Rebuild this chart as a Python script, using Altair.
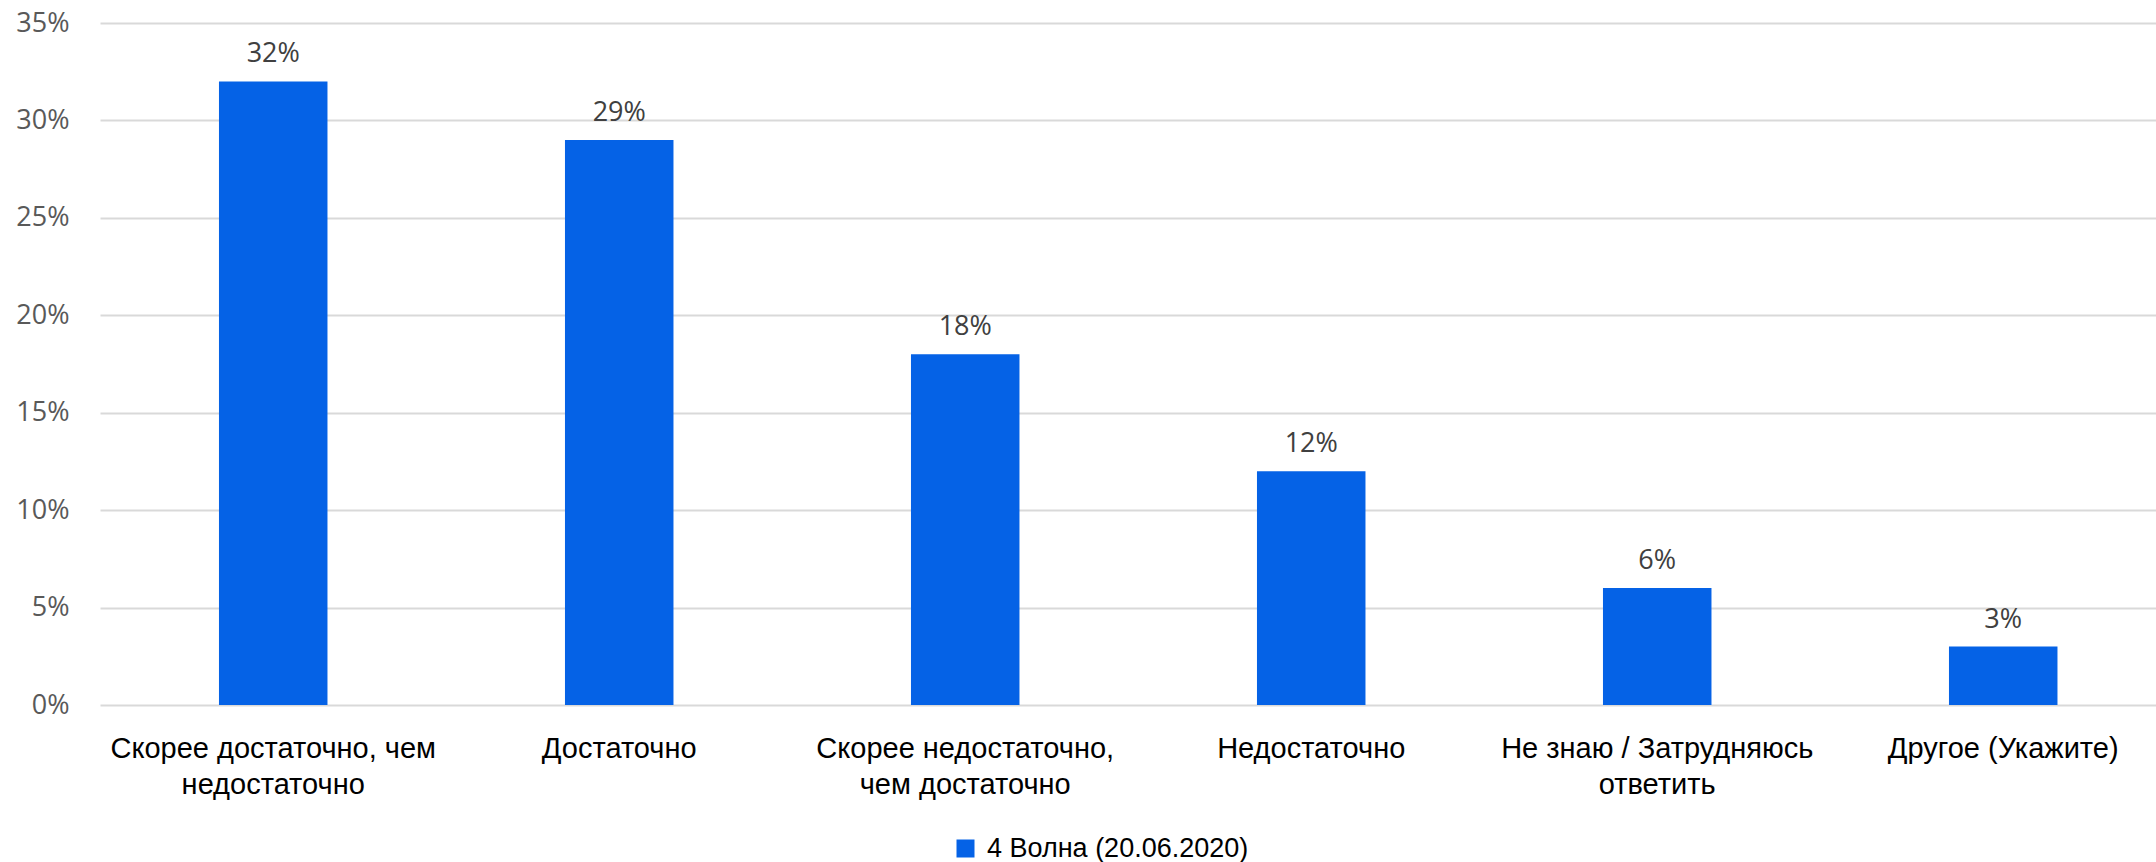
import altair as alt
import pandas as pd

categories = [
    "Скорее достаточно, чем|недостаточно",
    "Достаточно",
    "Скорее недостаточно,|чем достаточно",
    "Недостаточно",
    "Не знаю / Затрудняюсь|ответить",
    "Другое (Укажите)",
]
values = [32, 29, 18, 12, 6, 3]
series_name = "4 Волна (20.06.2020)"
y_ticks = [0, 5, 10, 15, 20, 25, 30, 35]

df = pd.DataFrame({
    "cat": categories,
    "value": values,
    "label": [f"{v}%" for v in values],
    "series": [series_name] * len(values),
})

x_enc = alt.X(
    "cat:N",
    sort=categories,
    scale=alt.Scale(paddingInner=0.6864, paddingOuter=0.3143, align=0.547),
    axis=alt.Axis(
        title=None,
        labelExpr="split(datum.label, '|')",
        labelAngle=0,
        labelFont="Liberation Sans",
        labelFontSize=29,
        labelColor="#000000",
        labelLineHeight=36,
        labelBaseline="top",
        labelPadding=29,
        labelLimit=800,
        ticks=False,
        domain=False,
        grid=False,
    ),
)
y_enc = alt.Y(
    "value:Q",
    scale=alt.Scale(domain=[0, 35], nice=False),
    axis=alt.Axis(
        title=None,
        values=y_ticks,
        labelExpr="datum.value + '%'",
        labelFont="Open Sans",
        labelFontSize=27,
        labelColor="#595959",
        labelPadding=31,
        ticks=False,
        domain=False,
        gridColor="#d9d9d9",
        gridWidth=2,
    ),
)

bars = alt.Chart(df).mark_bar().encode(
    x=x_enc,
    y=y_enc,
    color=alt.Color(
        "series:N",
        scale=alt.Scale(range=["#0562E6"]),
        legend=alt.Legend(
            title=None,
            orient="none",
            legendX=852,
            legendY=812,
            symbolType="square",
            symbolSize=324,
            symbolStrokeWidth=0,
            labelFont="Liberation Sans",
            labelFontSize=27,
            labelColor="#000000",
            labelOffset=8,
            labelLimit=1000,
            padding=0,
        ),
    ),
)

text = alt.Chart(df).mark_text(
    dy=-19, baseline="alphabetic", fontSize=27, font="Open Sans", color="#404040"
).encode(
    x=alt.X("cat:N", sort=categories),
    y=alt.Y("value:Q"),
    text="label:N",
)

chart = alt.layer(bars, text).properties(
    width=2056,
    height=682,
    padding={"left": 100, "top": 23, "right": 0, "bottom": 157},
    autosize=alt.AutoSizeParams(type="none"),
    background="white",
).configure_view(stroke=None)

chart.save("out.html", embed_options={"renderer": "svg", "actions": False})
